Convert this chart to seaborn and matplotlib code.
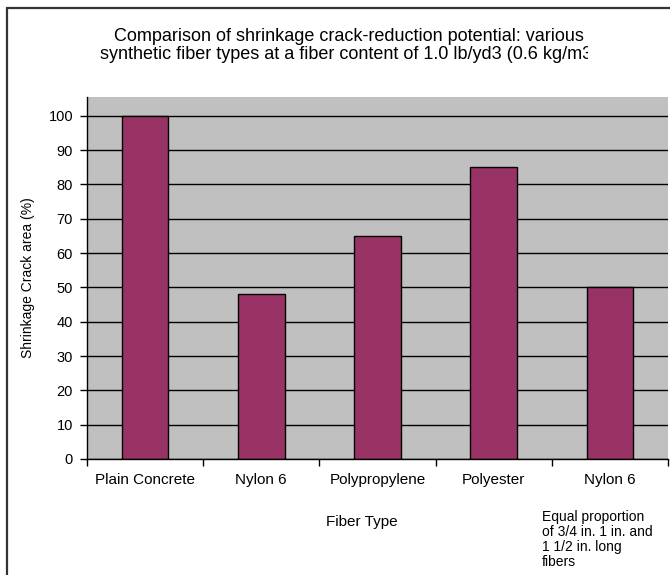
import matplotlib
matplotlib.use("Agg")
import matplotlib.pyplot as plt
import seaborn as sns
import pandas as pd
from matplotlib.lines import Line2D
from matplotlib.transforms import Bbox, TransformedBbox

# --- Data ---
fiber_keys = ["Plain Concrete", "Nylon 6", "Polypropylene", "Polyester", "Nylon 6 (mixed)"]
tick_labels = ["Plain Concrete", "Nylon 6", "Polypropylene", "Polyester", "Nylon 6"]
crack_area = [100, 48, 65, 85, 50]
y_ticks = [0, 10, 20, 30, 40, 50, 60, 70, 80, 90, 100]

TITLE = ("Comparison of shrinkage crack-reduction potential: various\n"
         "synthetic fiber types at a fiber content of 1.0 lb/yd3 (0.6 kg/m3)")
NOTE = "Equal proportion\nof 3/4 in. 1 in. and\n1 1/2 in. long\nfibers"

BAR_COLOR = "#993366"
PLOT_BG = "#C0C0C0"

sns.set_style("white")
plt.rcParams['font.family'] = ['Liberation Sans', 'DejaVu Sans']

W, H = 670, 575
fig = plt.figure(figsize=(W / 100, H / 100), dpi=100)
ax = fig.add_axes([87 / W, 1 - 459 / H, (668 - 87) / W, (459 - 97) / H])

df = pd.DataFrame({'fiber': fiber_keys, 'area': crack_area})
sns.barplot(data=df, x='fiber', y='area', color=BAR_COLOR, saturation=1,
            width=0.4, edgecolor='black', linewidth=1, ax=ax)

ax.set_facecolor(PLOT_BG)
ax.set_xlim(-0.5, len(fiber_keys) - 0.5)
ax.set_ylim(0, 105.5)
ax.set_yticks(y_ticks)
ax.yaxis.grid(True, color='black', linewidth=1)
ax.xaxis.grid(False)
ax.set_axisbelow(True)

for side in ['top', 'right']:
    ax.spines[side].set_visible(False)
for side in ['left', 'bottom']:
    ax.spines[side].set_color('black')
    ax.spines[side].set_linewidth(1)

ax.tick_params(axis='y', left=True, direction='out', length=5, width=1,
               pad=5, labelsize=10.5, colors='black')
ax.set_xticks(range(len(tick_labels)))
ax.set_xticklabels(tick_labels)
ax.set_xticks([i - 0.5 for i in range(len(tick_labels) + 1)], minor=True)
ax.tick_params(axis='x', which='major', bottom=True, length=0, pad=10,
               labelsize=11, colors='black')
ax.tick_params(axis='x', which='minor', bottom=True, direction='out',
               length=5, width=1, colors='black')

ax.set_ylabel('Shrinkage Crack area (%)', fontsize=10, color='black')
ax.yaxis.set_label_coords(-(87 - 35) / 581, 0.5)
ax.set_xlabel('Fiber Type', fontsize=11, color='black', va='top')
ax.xaxis.set_label_coords((362 - 87) / 581, -(515 - 459) / 362)

ax.text((542 - 87) / 581, -(510 - 459) / 362, NOTE, transform=ax.transAxes,
        ha='left', va='top', fontsize=10, linespacing=1.1, color='black')

# title, clipped on the right like the original text box
title = fig.text(349 / W, 1 - 28 / H, TITLE, ha='center', va='top',
                 fontsize=13, linespacing=1.05, color='black')
title.set_clip_box(TransformedBbox(Bbox.from_extents(0, 0, 588 / W, 1), fig.transFigure))
title.set_clip_on(True)

# outer chart border (left and top edges visible)
fig.add_artist(Line2D([6.5 / W, 6.5 / W], [0, 1 - 8 / H], transform=fig.transFigure,
                      color='#333333', linewidth=1.6))
fig.add_artist(Line2D([6.5 / W, 1], [1 - 8 / H, 1 - 8 / H], transform=fig.transFigure,
                      color='#333333', linewidth=1.6))

fig.savefig("out.png", dpi=100, facecolor='white')
